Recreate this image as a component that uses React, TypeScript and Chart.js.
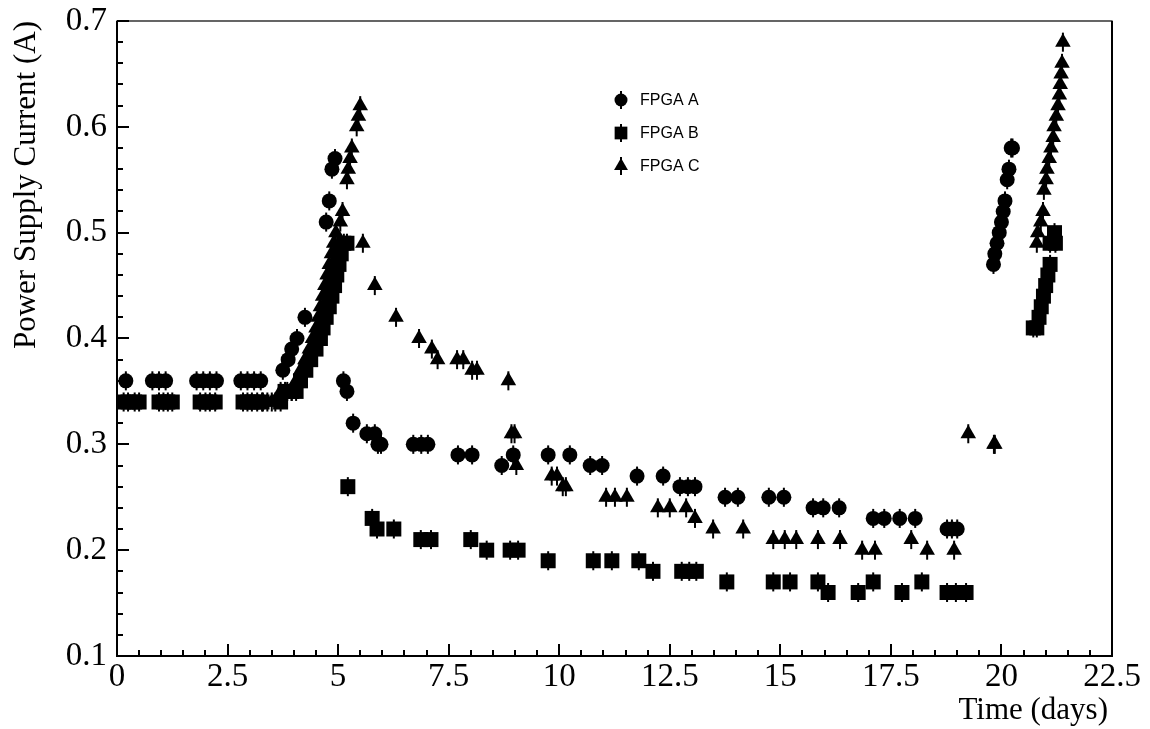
import React, { useEffect, useRef } from 'react';
import { Chart, registerables } from 'chart.js';

Chart.register(...registerables);

// ---------------- DATA ----------------
const seriesNames = ['FPGA A', 'FPGA B', 'FPGA C'];

const fpgaA_days = [
  0.2, 0.8, 0.95, 1.1, 1.8, 1.95, 2.1, 2.25, 2.8, 2.95, 3.1, 3.25,
  3.75, 3.87, 3.95, 4.07, 4.25,
  4.73, 4.8, 4.86, 4.93,
  5.12, 5.2, 5.34, 5.65, 5.83, 5.9, 5.97, 6.7, 6.88, 7.03, 7.71, 8.03, 8.7, 8.96,
  9.75, 10.24, 10.7, 10.97, 11.76, 12.35, 12.73, 12.91, 13.07, 13.75, 14.04, 14.74, 15.08,
  15.74, 15.97, 16.33, 17.1, 17.35, 17.7, 18.05, 18.77, 18.88, 19.0,
  19.82, 19.85, 19.9, 19.95, 20.0, 20.04, 20.08, 20.13, 20.17, 20.22, 20.25,
];
const fpgaA_current = [
  0.36, 0.36, 0.36, 0.36, 0.36, 0.36, 0.36, 0.36, 0.36, 0.36, 0.36, 0.36,
  0.37, 0.38, 0.39, 0.40, 0.42,
  0.51, 0.53, 0.56, 0.57,
  0.36, 0.35, 0.32, 0.31, 0.31, 0.30, 0.30, 0.30, 0.30, 0.30, 0.29, 0.29, 0.28, 0.29,
  0.29, 0.29, 0.28, 0.28, 0.27, 0.27, 0.26, 0.26, 0.26, 0.25, 0.25, 0.25, 0.25,
  0.24, 0.24, 0.24, 0.23, 0.23, 0.23, 0.23, 0.22, 0.22, 0.22,
  0.47, 0.48, 0.49, 0.50, 0.51, 0.52, 0.53, 0.55, 0.56, 0.58, 0.58,
];

const fpgaB_days = [
  0.15, 0.25, 0.4, 0.5, 0.95, 1.05, 1.15, 1.25, 1.88, 2.0, 2.1, 2.22, 2.85, 2.95, 3.05, 3.17, 3.28,
  3.7, 3.8, 3.95, 4.05, 4.15, 4.27, 4.38, 4.5, 4.6, 4.66, 4.73, 4.8, 4.86, 4.92, 4.97, 5.02, 5.07, 5.13, 5.2,
  5.22, 5.77, 5.88, 6.26, 6.87, 7.1, 8.0, 8.36, 8.89, 9.07, 9.75, 10.77, 11.19, 11.8, 12.12,
  12.77, 12.94, 13.1, 13.79, 14.84, 15.22, 15.85, 16.08, 16.76, 17.1, 17.75, 18.2, 18.77, 18.97, 19.2,
  20.72, 20.8, 20.85, 20.9, 20.95, 21.0, 21.05, 21.1, 21.1, 21.2, 21.22,
];
const fpgaB_current = [
  0.34, 0.34, 0.34, 0.34, 0.34, 0.34, 0.34, 0.34, 0.34, 0.34, 0.34, 0.34, 0.34, 0.34, 0.34, 0.34, 0.34,
  0.34, 0.35, 0.35, 0.35, 0.36, 0.37, 0.38, 0.39, 0.40, 0.41, 0.42, 0.43, 0.44, 0.45, 0.46, 0.47, 0.48, 0.49, 0.49,
  0.26, 0.23, 0.22, 0.22, 0.21, 0.21, 0.21, 0.20, 0.20, 0.20, 0.19, 0.19, 0.19, 0.19, 0.18,
  0.18, 0.18, 0.18, 0.17, 0.17, 0.17, 0.17, 0.16, 0.16, 0.17, 0.16, 0.17, 0.16, 0.16, 0.16,
  0.41, 0.41, 0.42, 0.43, 0.44, 0.45, 0.46, 0.47, 0.49, 0.50, 0.49,
];

const fpgaC_days = [
  3.3, 3.4, 3.5, 3.58,
  3.7, 3.85, 3.95, 4.05, 4.15, 4.25, 4.35, 4.42, 4.5, 4.55, 4.6, 4.65, 4.7, 4.75, 4.8, 4.85, 4.9, 4.95, 5.05, 5.1,
  5.2, 5.23, 5.27, 5.31, 5.42, 5.46, 5.5,
  5.56, 5.83, 6.31, 6.83, 7.12, 7.25, 7.69, 7.83, 8.03, 8.14, 8.85, 8.92, 8.99, 9.03,
  9.83, 9.95, 10.08, 10.15, 11.06, 11.26, 11.53, 12.23, 12.5, 12.87, 13.07, 13.48, 14.16,
  14.84, 15.1, 15.36, 15.85, 16.35, 16.85, 17.14, 17.96, 18.32, 18.93, 19.25, 19.83, 19.85,
  20.8, 20.82, 20.89, 20.94, 20.96, 21.01, 21.03, 21.08, 21.12, 21.17, 21.19, 21.24, 21.28, 21.31, 21.33, 21.35, 21.37, 21.39,
];
const fpgaC_current = [
  0.34, 0.34, 0.34, 0.34,
  0.35, 0.35, 0.35, 0.36, 0.37, 0.38, 0.39, 0.40, 0.41, 0.42, 0.43, 0.44, 0.45, 0.46, 0.47, 0.48, 0.49, 0.50, 0.51, 0.52,
  0.55, 0.56, 0.57, 0.58, 0.60, 0.61, 0.62,
  0.49, 0.45, 0.42, 0.40, 0.39, 0.38, 0.38, 0.38, 0.37, 0.37, 0.36, 0.31, 0.31, 0.28,
  0.27, 0.27, 0.26, 0.26, 0.25, 0.25, 0.25, 0.24, 0.24, 0.24, 0.23, 0.22, 0.22,
  0.21, 0.21, 0.21, 0.21, 0.21, 0.20, 0.20, 0.21, 0.20, 0.20, 0.31, 0.30, 0.30,
  0.49, 0.50, 0.51, 0.52, 0.54, 0.55, 0.56, 0.57, 0.58, 0.59, 0.60, 0.61, 0.62, 0.63, 0.64, 0.65, 0.66, 0.68,
];

const errorHalf = 0.009;

const xMin = 0, xMax = 22.5, xMajor = 2.5, xMinor = 0.5;
const yMin = 0.1, yMax = 0.7, yMajor = 0.1, yMinor = 0.02;

const xTitle = 'Time (days)';
const yTitle = 'Power Supply Current (A)';

// ---------------- STYLE ----------------
const SERIF = '"Liberation Serif", "Times New Roman", serif';
const SANS = '"Liberation Sans", Arial, Helvetica, sans-serif';
const TICK_FONT_SIZE = 33;
const TITLE_FONT_SIZE = 31;
const pointStyles = ['circle', 'rect', 'triangle'];
const pointRadii = [7.5, 10.6, 9];

function zip(xs: number[], ys: number[]) {
  return xs.map((x, i) => ({ x, y: ys[i] }));
}

function drawMarker(ctx: CanvasRenderingContext2D, style: string, x: number, y: number, r: number) {
  ctx.beginPath();
  if (style === 'circle') {
    ctx.arc(x, y, r, 0, Math.PI * 2);
  } else if (style === 'rect') {
    const s = Math.SQRT1_2 * r;
    ctx.rect(x - s, y - s, 2 * s, 2 * s);
  } else {
    let a = 0;
    ctx.moveTo(x + Math.sin(a) * r, y - Math.cos(a) * r);
    a += (2 * Math.PI) / 3;
    ctx.lineTo(x + Math.sin(a) * r, y - Math.cos(a) * r);
    a += (2 * Math.PI) / 3;
    ctx.lineTo(x + Math.sin(a) * r, y - Math.cos(a) * r);
    ctx.closePath();
  }
  ctx.fill();
}

const decorPlugin = {
  id: 'decor',
  beforeDatasetsDraw(chart: any) {
    const ctx: CanvasRenderingContext2D = chart.ctx;
    const ys = chart.scales.y;
    ctx.save();
    ctx.strokeStyle = '#000';
    ctx.lineWidth = 2;
    chart.data.datasets.forEach((ds: any, di: number) => {
      const meta = chart.getDatasetMeta(di);
      meta.data.forEach((el: any, i: number) => {
        const v = ds.data[i].y;
        const y1 = ys.getPixelForValue(v - errorHalf);
        const y2 = ys.getPixelForValue(v + errorHalf);
        ctx.beginPath();
        ctx.moveTo(el.x, y1);
        ctx.lineTo(el.x, y2);
        ctx.stroke();
      });
    });
    ctx.restore();
  },
  afterDraw(chart: any) {
    const ctx: CanvasRenderingContext2D = chart.ctx;
    const { left, right, top, bottom } = chart.chartArea;
    const xs = chart.scales.x;
    const ys = chart.scales.y;
    ctx.save();
    ctx.strokeStyle = '#000';
    // frame
    ctx.lineWidth = 1.2;
    ctx.strokeRect(left, top, right - left, bottom - top);
    ctx.lineWidth = 2;
    ctx.beginPath();
    ctx.moveTo(left, top);
    ctx.lineTo(left, bottom);
    ctx.lineTo(right, bottom);
    ctx.lineTo(right, top);
    ctx.stroke();

    // ticks (inward, left & bottom only)
    ctx.lineWidth = 2;
    const nX = Math.round((xMax - xMin) / xMinor);
    for (let i = 0; i <= nX; i++) {
      const v = xMin + i * xMinor;
      const major = Math.abs(v / xMajor - Math.round(v / xMajor)) < 1e-6;
      const px = Math.round(xs.getPixelForValue(v));
      const len = major ? 12 : 6;
      ctx.beginPath();
      ctx.moveTo(px, bottom);
      ctx.lineTo(px, bottom - len);
      ctx.stroke();
    }
    const nY = Math.round((yMax - yMin) / yMinor);
    for (let i = 0; i <= nY; i++) {
      const v = yMin + i * yMinor;
      const major = i % Math.round(yMajor / yMinor) === 0;
      const py = Math.round(ys.getPixelForValue(v));
      const len = major ? 12 : 6;
      ctx.beginPath();
      ctx.moveTo(left, py);
      ctx.lineTo(left + len, py);
      ctx.stroke();
    }

    // axis titles
    ctx.fillStyle = '#000';
    ctx.font = `${TITLE_FONT_SIZE}px ${SERIF}`;
    ctx.textAlign = 'right';
    ctx.textBaseline = 'middle';
    ctx.fillText(xTitle, right - 4, bottom + 55);

    ctx.save();
    ctx.translate(left - 90, top);
    ctx.rotate(-Math.PI / 2);
    ctx.textAlign = 'right';
    ctx.textBaseline = 'middle';
    ctx.fillText(yTitle, 0, 0);
    ctx.restore();

    // legend
    const lx = left + 504;
    const ly = top + 79;
    ctx.font = `16px ${SANS}`;
    ctx.textAlign = 'left';
    ctx.textBaseline = 'middle';
    seriesNames.forEach((name, i) => {
      const y = ly + i * 33;
      ctx.fillStyle = '#000';
      ctx.lineWidth = 2;
      ctx.beginPath();
      ctx.moveTo(lx, y - 9);
      ctx.lineTo(lx, y + 9);
      ctx.stroke();
      drawMarker(ctx, pointStyles[i], lx, y, i === 1 ? 9 : i === 2 ? 8 : 6.5);
      ctx.fillText(name, lx + 19, y + 1);
    });
    ctx.restore();
  },
};

export default function App() {
  const canvasRef = useRef<HTMLCanvasElement | null>(null);

  useEffect(() => {
    const canvas = canvasRef.current;
    if (!canvas) return;
    const datasets = [
      zip(fpgaA_days, fpgaA_current),
      zip(fpgaB_days, fpgaB_current),
      zip(fpgaC_days, fpgaC_current),
    ].map((data, i) => ({
      label: seriesNames[i],
      data,
      pointStyle: pointStyles[i],
      pointRadius: pointRadii[i],
      pointBackgroundColor: '#000',
      pointBorderColor: '#000',
      pointBorderWidth: 0,
      showLine: false,
    }));

    const chart = new Chart(canvas, {
      type: 'scatter',
      data: { datasets },
      options: {
        responsive: false,
        animation: false,
        events: [],
        layout: { padding: { top: 13, right: 30, left: 0, bottom: 0 } },
        plugins: {
          legend: { display: false },
          tooltip: { enabled: false },
        },
        scales: {
          x: {
            type: 'linear',
            min: xMin,
            max: xMax,
            grid: { display: false, drawTicks: false },
            border: { display: false },
            ticks: {
              stepSize: xMajor,
              autoSkip: false,
              maxRotation: 0,
              padding: 2,
              color: '#000',
              font: { family: SERIF, size: TICK_FONT_SIZE },
              callback: (v: any) => String(Math.round(Number(v) * 10) / 10),
            },
            afterFit: (s: any) => {
              s.height = 73;
              s.paddingLeft = 0;
              s.paddingRight = 0;
            },
          },
          y: {
            type: 'linear',
            min: yMin,
            max: yMax,
            grid: { display: false, drawTicks: false },
            border: { display: false },
            ticks: {
              stepSize: yMajor,
              autoSkip: false,
              padding: 10,
              color: '#000',
              font: { family: SERIF, size: TICK_FONT_SIZE },
              callback: (v: any) => Number(v).toFixed(1),
            },
            afterFit: (s: any) => {
              s.width = 109;
              s.paddingTop = 0;
              s.paddingBottom = 0;
            },
          },
        },
      },
      plugins: [decorPlugin],
    } as any);

    return () => chart.destroy();
  }, []);

  return (
    <canvas
      ref={canvasRef}
      width={1134}
      height={721}
      style={{ display: 'block', position: 'absolute', left: 8, top: 8, width: 1134, height: 721 }}
    />
  );
}
